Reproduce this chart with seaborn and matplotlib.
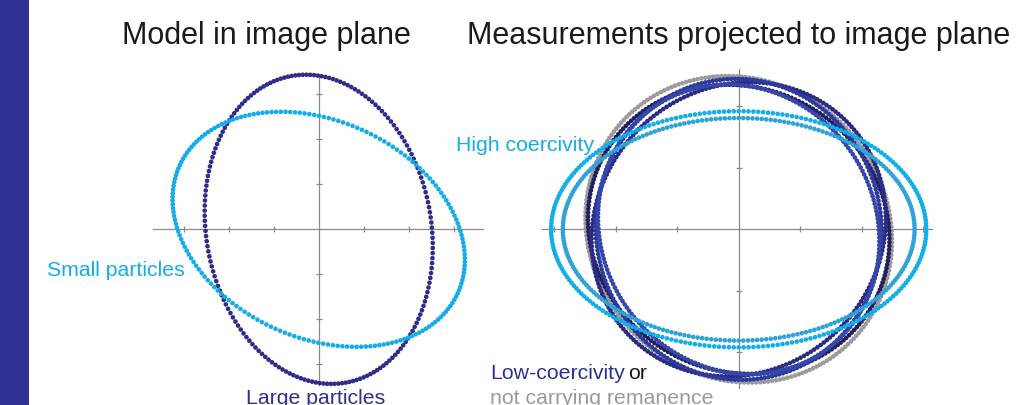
import numpy as np
import pandas as pd
import matplotlib
matplotlib.use("Agg")
import matplotlib.pyplot as plt
from matplotlib.patches import Rectangle
import seaborn as sns

sns.set_theme(style="white")
plt.rcParams["font.family"] = ["Liberation Sans", "DejaVu Sans"]

# ---- model ellipses (left panel), in tick units ----
model_labels = ["Large particles", "Small particles"]
model_semi_major = [3.46, 3.40]
model_semi_minor = [2.50, 2.41]
model_tilt_deg = [100.0, -24.8]
model_colors = ["#2e2d8a", "#14ade9"]

# ---- measured ellipses (right panel), in tick units ----
meas_labels = ["not carrying", "low 1", "low 2", "low 3", "low 4", "high 2", "high 1"]
meas_semi_major = [2.58, 2.50, 2.48, 2.45, 2.42, 2.86, 3.05]
meas_semi_minor = [2.40, 2.30, 2.30, 2.32, 2.22, 1.81, 1.92]
meas_tilt_deg = [135, 150, 45, 100, 125, 0, 0]
meas_colors = ["#9b9b9d", "#221f5f", "#2a2b85", "#2d3a9b", "#3547aa", "#2fa3d6", "#12aee9"]

model_ticks = [-3, -2, -1, 1, 2, 3]
meas_ticks_x = [-3, -2, -1, 1, 2, 3]
meas_ticks_y = [-2, -1, 1, 2]

W, H = 1026, 405
AXIS_GREY = "#8a8a8a"


def ring_points(label, a, b, tilt, n):
    t = np.linspace(0, 2 * np.pi, n, endpoint=False)
    th = np.deg2rad(tilt)
    x = a * np.cos(t) * np.cos(th) - b * np.sin(t) * np.sin(th)
    y = a * np.cos(t) * np.sin(th) + b * np.sin(t) * np.cos(th)
    return pd.DataFrame({"x": x, "y": y, "ring": label})


def make_panel(px_left, px_right, cx, cy, unit, xspan, yspan, xticks, yticks):
    ax = fig.add_axes([px_left / W, 0, (px_right - px_left) / W, 1])
    ax.patch.set_alpha(0)
    for side in ("top", "right"):
        ax.spines[side].set_visible(False)
    ax.spines["left"].set_position("zero")
    ax.spines["bottom"].set_position("zero")
    ax.spines["bottom"].set_bounds(*xspan)
    ax.spines["left"].set_bounds(*yspan)
    for side in ("left", "bottom"):
        ax.spines[side].set_color(AXIS_GREY)
        ax.spines[side].set_linewidth(0.9)
        ax.spines[side].set_zorder(1)
    ax.set_xticks(xticks)
    ax.set_yticks(yticks)
    ax.tick_params(bottom=True, left=True, direction="inout", length=5, width=0.9,
                   color=AXIS_GREY, labelbottom=False, labelleft=False)
    return ax, ((px_left - cx) / unit, (px_right - cx) / unit), ((cy - H) / unit, cy / unit)


fig = plt.figure(figsize=(W / 100, H / 100), dpi=100)
fig.patch.set_facecolor("white")
fig.add_artist(Rectangle((0, 0), 29 / W, 1, transform=fig.transFigure,
                         facecolor="#2e3192", edgecolor="none", zorder=0))

# left panel: model in image plane
axL, xl, yl = make_panel(130, 500, 318.7, 229.3, 45.0, (-3.68, 3.65), (-3.46, 3.43),
                         model_ticks, model_ticks)
dfL = pd.concat([ring_points(l, a, b, t, 190) for l, a, b, t in
                 zip(model_labels, model_semi_major, model_semi_minor, model_tilt_deg)],
                ignore_index=True)
sns.scatterplot(data=dfL, x="x", y="y", hue="ring", hue_order=model_labels,
                palette=model_colors, s=11, linewidth=0, legend=False, ax=axL, zorder=3)
axL.set_xlim(*xl)
axL.set_ylim(*yl)
axL.set_xlabel("")
axL.set_ylabel("")

# right panel: measurements projected to image plane
axR, xr, yr = make_panel(520, 1020, 738.7, 229.3, 61.5, (-3.2, 3.15), (-2.58, 2.6),
                         meas_ticks_x, meas_ticks_y)
dfR = pd.concat([ring_points(l, a, b, t, 240) for l, a, b, t in
                 zip(meas_labels, meas_semi_major, meas_semi_minor, meas_tilt_deg)],
                ignore_index=True)
sns.scatterplot(data=dfR, x="x", y="y", hue="ring", hue_order=meas_labels,
                palette=meas_colors, s=11, linewidth=0, legend=False, ax=axR, zorder=3)
axR.set_xlim(*xr)
axR.set_ylim(*yr)
axR.set_xlabel("")
axR.set_ylabel("")


def label(px, py, s, color, size):
    fig.text(px / W, 1 - py / H, s, color=color, fontsize=size, ha="left", va="baseline",
             zorder=5)


label(122, 44, "Model in image plane", "#1a1a1a", 22)
label(467, 44, "Measurements projected to image plane", "#1a1a1a", 22)
label(47, 276, "Small particles", "#14ade9", 15.3)
label(246, 404.5, "Large particles", "#2e3192", 15.3)
label(456, 151, "High coercivity", "#14ade9", 15.3)
label(490, 379, "Low-coercivity", "#2e3192", 15.3)
label(628, 379, "or", "#1a1a1a", 15.3)
label(490, 404, "not carrying remanence", "#9a9a9a", 15.3)

fig.savefig("out.png", dpi=100, facecolor="white")
